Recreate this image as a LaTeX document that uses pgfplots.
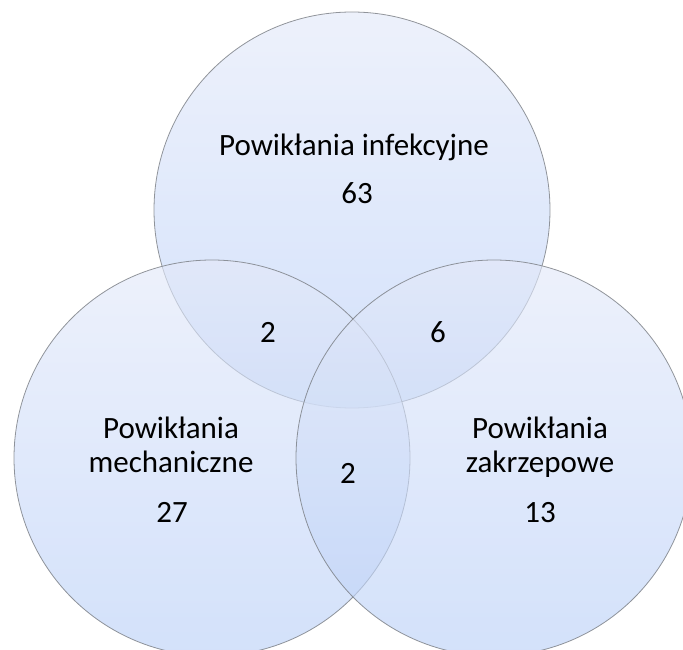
\documentclass[border=0pt]{standalone}
\usepackage{pgfplots}
\pgfplotsset{compat=1.18}
\usepackage{fontspec}
\setmainfont{Carlito}
\definecolor{vtop}{RGB}{227,233,249}
\definecolor{vbot}{RGB}{186,208,247}
\definecolor{vline}{RGB}{120,124,130}
\begin{document}
\begin{tikzpicture}
\begin{axis}[name=ax,
  width=683pt, height=649pt, scale only axis,
  xmin=0, xmax=683, ymin=0, ymax=649,
  hide axis, clip=true]
% circles: centre x, centre y, radius 198 (axis units)
\shade[top color=vtop, bottom color=vbot, fill opacity=0.64] (axis cs:352,439) circle[radius=198];
\draw[vline, line width=0.8pt, draw opacity=0.8] (axis cs:352,439) circle[radius=198];
\shade[top color=vtop, bottom color=vbot, fill opacity=0.64] (axis cs:212,191) circle[radius=198];
\draw[vline, line width=0.8pt, draw opacity=0.8] (axis cs:212,191) circle[radius=198];
\shade[top color=vtop, bottom color=vbot, fill opacity=0.64] (axis cs:494,191) circle[radius=198];
\draw[vline, line width=0.8pt, draw opacity=0.8] (axis cs:494,191) circle[radius=198];
\addplot[draw=none, mark=none, nodes near coords, point meta=explicit symbolic,
  every node near coord/.append style={anchor=base, inner sep=0pt, text=black,
    font=\fontsize{31}{37}\selectfont}]
  coordinates {
  (354,493) [Powikłania infekcyjne]
  (357,445) [63]
  (268,306) [2]
  (438,306) [6]
  (348,166) [2]
  (171,211) [Powikłania]
  (171,177) [mechaniczne]
  (172,127) [27]
  (540,211) [Powikłania]
  (540,177) [zakrzepowe]
  (540,127) [13]
  };
\end{axis}
\pgfresetboundingbox
\useasboundingbox (ax.south west) rectangle (ax.north east);
\end{tikzpicture}
\end{document}
